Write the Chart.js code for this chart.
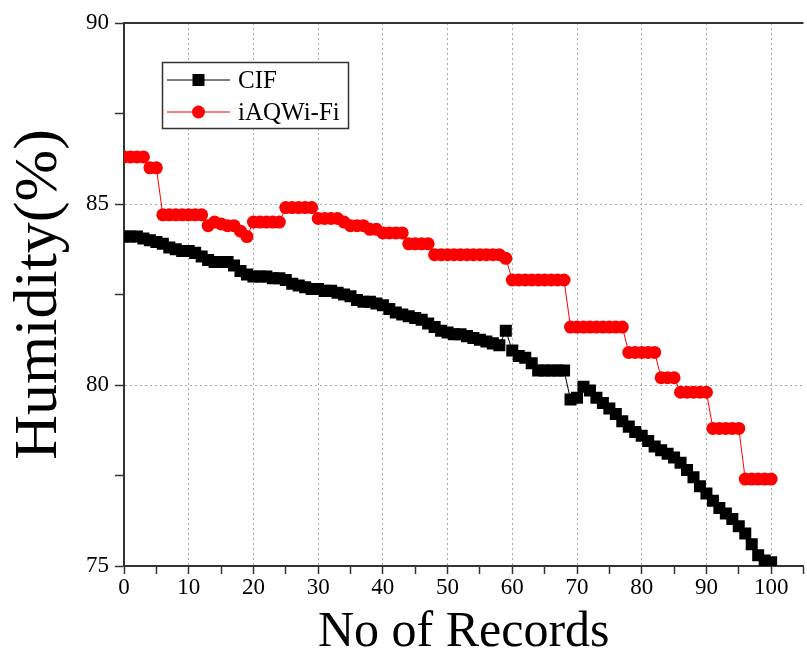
<!DOCTYPE html>
<html>
<head>
<meta charset="utf-8">
<script src="https://cdn.jsdelivr.net/npm/chart.js@4.4.1/dist/chart.umd.min.js"></script>
<style>
  html, body { margin: 0; padding: 0; background: #fff; overflow: hidden; }
  #wrap { position: relative; width: 812px; height: 664px; }
</style>
</head>
<body>
<div id="wrap"><canvas id="humidityChart"></canvas></div>
<script>
// Record index 0..100 on the x axis
const seriesNames = ["CIF", "iAQWi-Fi"];
const xTicks = [0, 10, 20, 30, 40, 50, 60, 70, 80, 90, 100];
const yTicks = [75, 80, 85, 90];

const cifHumidity = [
  84.1, 84.1, 84.1, 84.05, 84.0, 83.95, 83.9, 83.8, 83.75, 83.7,
  83.7, 83.65, 83.55, 83.45, 83.4, 83.4, 83.4, 83.3, 83.15, 83.05,
  83.0, 83.0, 83.0, 82.95, 82.95, 82.9, 82.8, 82.75, 82.7, 82.65,
  82.65, 82.6, 82.6, 82.55, 82.5, 82.45, 82.35, 82.3, 82.3, 82.25,
  82.2, 82.1, 82.0, 81.95, 81.9, 81.85, 81.8, 81.7, 81.6, 81.5,
  81.45, 81.4, 81.4, 81.35, 81.3, 81.25, 81.2, 81.15, 81.1, 81.5,
  80.95, 80.8, 80.75, 80.6, 80.4, 80.4, 80.4, 80.4, 80.4, 79.6,
  79.65, 79.95, 79.85, 79.65, 79.5, 79.35, 79.2, 79.0, 78.85, 78.7,
  78.6, 78.45, 78.3, 78.2, 78.1, 78.0, 77.85, 77.65, 77.45, 77.2,
  77.0, 76.8, 76.6, 76.45, 76.3, 76.1, 75.9, 75.6, 75.3, 75.15,
  75.1
];

const iaqHumidity = [
  86.3, 86.3, 86.3, 86.3, 86.0, 86.0, 84.7, 84.7, 84.7, 84.7,
  84.7, 84.7, 84.7, 84.4, 84.5, 84.45, 84.4, 84.4, 84.25, 84.1,
  84.5, 84.5, 84.5, 84.5, 84.5, 84.9, 84.9, 84.9, 84.9, 84.9,
  84.6, 84.6, 84.6, 84.6, 84.5, 84.4, 84.4, 84.4, 84.3, 84.3,
  84.2, 84.2, 84.2, 84.2, 83.9, 83.9, 83.9, 83.9, 83.6, 83.6,
  83.6, 83.6, 83.6, 83.6, 83.6, 83.6, 83.6, 83.6, 83.6, 83.5,
  82.9, 82.9, 82.9, 82.9, 82.9, 82.9, 82.9, 82.9, 82.9, 81.6,
  81.6, 81.6, 81.6, 81.6, 81.6, 81.6, 81.6, 81.6, 80.9, 80.9,
  80.9, 80.9, 80.9, 80.2, 80.2, 80.2, 79.8, 79.8, 79.8, 79.8,
  79.8, 78.8, 78.8, 78.8, 78.8, 78.8, 77.4, 77.4, 77.4, 77.4,
  77.4
];

const toPoints = (arr) => arr.map((v, i) => ({ x: i, y: v }));

const serif = "'Liberation Serif', 'Times New Roman', serif";
const axisColor = "#333";
const gridColor = "#a8a8a8";

// Boxed legend inside the plot plus the top frame line
const frameAndLegend = {
  id: "frameAndLegend",
  afterDraw(chart) {
    const { ctx, chartArea } = chart;
    ctx.save();
    ctx.strokeStyle = axisColor;
    ctx.lineWidth = 2;
    ctx.beginPath();
    ctx.moveTo(chartArea.left, chartArea.top);
    ctx.lineTo(chartArea.right, chartArea.top);
    ctx.stroke();

    const bx = 162.5, by = 62.5, bw = 186, bh = 66;
    ctx.fillStyle = "#fff";
    ctx.fillRect(bx, by, bw, bh);
    ctx.lineWidth = 1.5;
    ctx.strokeRect(bx, by, bw, bh);

    const rows = [80, 112];
    chart.data.datasets.forEach((ds, i) => {
      const y = rows[i];
      ctx.strokeStyle = ds.borderColor;
      ctx.lineWidth = 1;
      ctx.beginPath();
      ctx.moveTo(167, y);
      ctx.lineTo(230, y);
      ctx.stroke();
      ctx.fillStyle = ds.pointBackgroundColor;
      ctx.strokeStyle = ds.pointBorderColor;
      Chart.helpers.drawPoint(ctx, {
        pointStyle: ds.pointStyle,
        radius: ds.pointStyle === "rect" ? 8.5 : 6.5,
        borderWidth: 0,
        rotation: 0
      }, 198.5, y);
      ctx.fillStyle = "#000";
      ctx.font = "25px " + serif;
      ctx.textBaseline = "middle";
      ctx.textAlign = "left";
      ctx.fillText(ds.label, 238, y + 1);
    });
    ctx.restore();
  }
};

new Chart(document.getElementById("humidityChart"), {
  type: "line",
  data: {
    datasets: [
      {
        label: seriesNames[0],
        data: toPoints(cifHumidity),
        borderColor: "#000",
        borderWidth: 1,
        pointStyle: "rect",
        pointRadius: 8.5,
        pointBackgroundColor: "#000",
        pointBorderColor: "#000",
        pointBorderWidth: 0,
        tension: 0
      },
      {
        label: seriesNames[1],
        data: toPoints(iaqHumidity),
        borderColor: "#ff0000",
        borderWidth: 1,
        pointStyle: "circle",
        pointRadius: 6.5,
        pointBackgroundColor: "#ff0000",
        pointBorderColor: "#ff0000",
        pointBorderWidth: 0,
        tension: 0
      }
    ]
  },
  options: {
    responsive: true,
    maintainAspectRatio: false,
    animation: false,
    layout: { padding: { top: 23, right: 0, bottom: 0, left: 0 } },
    plugins: {
      legend: { display: false },
      tooltip: { enabled: false }
    },
    scales: {
      x: {
        type: "linear",
        min: 0,
        max: 105,
        afterFit: (s) => { s.height = 98; },
        border: { color: axisColor, width: 2, dash: [2, 3] },
        grid: {
          drawTicks: true,
          tickLength: 8,
          tickColor: axisColor,
          tickWidth: 1.5,
          tickBorderDash: [],
          color: (c) => (c.tick && c.tick.value % 10 === 0 && c.tick.value > 0 && c.tick.value <= 100 ? gridColor : "transparent"),
          lineWidth: 1
        },
        ticks: {
          stepSize: 5,
          autoSkip: false,
          maxRotation: 0,
          padding: 0,
          color: "#000",
          font: { family: serif, size: 23 },
          callback: (v) => (xTicks.includes(v) ? String(v) : "")
        },
        title: {
          display: true,
          text: "No of Records",
          color: "#000",
          font: { family: serif, size: 50 },
          padding: { top: 0, bottom: 1 }
        }
      },
      y: {
        min: 75,
        max: 90,
        afterFit: (s) => { s.width = 124; },
        border: { color: axisColor, width: 2, dash: [2, 3] },
        grid: {
          drawTicks: true,
          tickLength: 9,
          tickColor: axisColor,
          tickWidth: 1.5,
          tickBorderDash: [],
          color: (c) => (c.tick && (c.tick.value === 85 || c.tick.value === 80) ? gridColor : "transparent"),
          lineWidth: 1
        },
        ticks: {
          stepSize: 2.5,
          autoSkip: false,
          padding: 6,
          color: "#000",
          font: { family: serif, size: 23 },
          callback: (v) => (yTicks.includes(v) ? String(v) : "")
        },
        title: {
          display: true,
          text: "Humidity(%)",
          color: "#000",
          font: { family: serif, size: 62 },
          padding: { top: 3, bottom: 0 }
        }
      }
    }
  },
  plugins: [frameAndLegend]
});
</script>
</body>
</html>
